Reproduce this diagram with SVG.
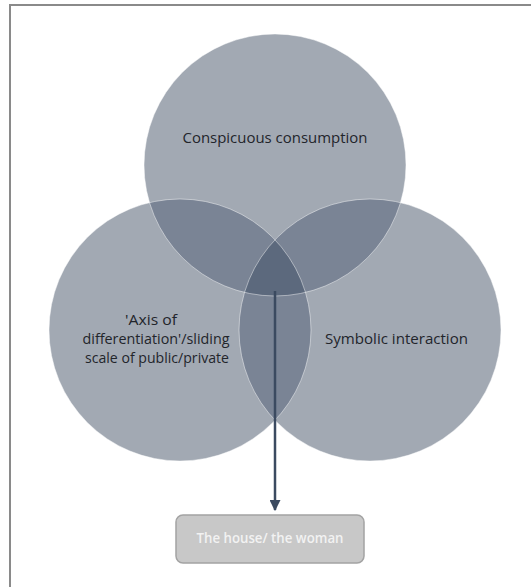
<svg xmlns="http://www.w3.org/2000/svg" width="531" height="587" viewBox="0 0 531 587">
<style>
.lbl{font-family:"Open Sans","Liberation Sans",sans-serif;font-size:15px;fill:#22252b;text-anchor:middle}
.box-lbl{font-family:"Open Sans","Liberation Sans",sans-serif;font-size:14px;font-weight:600;fill:#f2f2f2;text-anchor:middle}
.c1{fill:#a2a9b3}
.c2{fill:#7a8495}
.c3{fill:#5c697d}
.edge{fill:none;stroke:#ffffff;stroke-opacity:0.45;stroke-width:1}
</style>
<defs>
<clipPath id="cTop"><circle cx="275" cy="165" r="131"/></clipPath>
<clipPath id="cLeft"><circle cx="180" cy="330" r="131"/></clipPath>
<clipPath id="cRight"><circle cx="370" cy="330" r="131"/></clipPath>
<marker id="arr" viewBox="0 0 10 10" refX="9" refY="5" markerWidth="4.4" markerHeight="4.4" orient="auto" markerUnits="strokeWidth">
<path d="M0,0 L10,5 L0,10 z" fill="#3b4a60"/>
</marker>
</defs>
<rect x="0" y="0" width="531" height="587" fill="#ffffff"/>
<path d="M10,587 L10,5 L531,5" fill="none" stroke="#8a8a8a" stroke-width="2"/>
<g id="circle-top">
<circle class="c1" cx="275" cy="165" r="131"/>
</g>
<g id="circle-left">
<circle class="c1" cx="180" cy="330" r="131"/>
</g>
<g id="circle-right">
<circle class="c1" cx="370" cy="330" r="131"/>
</g>
<g id="overlaps">
<g clip-path="url(#cTop)"><circle class="c2" cx="180" cy="330" r="131"/><circle class="c2" cx="370" cy="330" r="131"/></g>
<g clip-path="url(#cLeft)"><circle class="c2" cx="370" cy="330" r="131"/></g>
<g clip-path="url(#cTop)"><g clip-path="url(#cLeft)"><circle class="c3" cx="370" cy="330" r="131"/></g></g>
<circle class="edge" cx="275" cy="165" r="131"/>
<circle class="edge" cx="180" cy="330" r="131"/>
<circle class="edge" cx="370" cy="330" r="131"/>
</g>
<g id="labels">
<text class="lbl" x="275" y="143" textLength="185" lengthAdjust="spacingAndGlyphs">Conspicuous consumption</text>
<text class="lbl" x="151" y="325" textLength="52" lengthAdjust="spacingAndGlyphs">'Axis of</text>
<text class="lbl" x="156" y="344" textLength="147" lengthAdjust="spacingAndGlyphs">differentiation'/sliding</text>
<text class="lbl" x="157" y="363" textLength="144" lengthAdjust="spacingAndGlyphs">scale of public/private</text>
<text class="lbl" x="396.5" y="344" textLength="143" lengthAdjust="spacingAndGlyphs">Symbolic interaction</text>
</g>
<g id="connectors">
<line x1="275" y1="291" x2="275" y2="510" stroke="#3b4a60" stroke-width="2.5" marker-end="url(#arr)"/>
</g>
<g id="node-house">
<rect x="176" y="515" width="188" height="48" rx="7" ry="7" fill="#c8c8c8" stroke="#a3a3a3" stroke-width="1.5"/>
<text class="box-lbl" x="270" y="543" textLength="147" lengthAdjust="spacingAndGlyphs">The house/ the woman</text>
</g>
</svg>
